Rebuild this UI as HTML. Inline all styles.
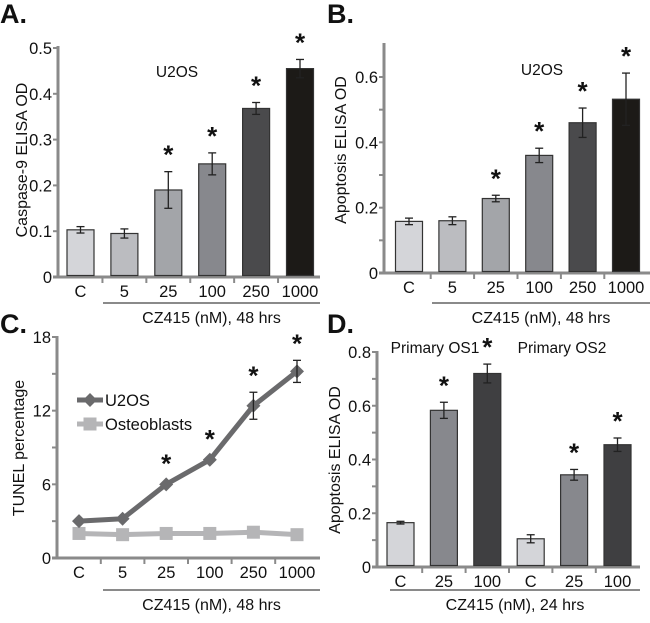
<!DOCTYPE html>
<html><head><meta charset="utf-8"><style>
html,body{margin:0;padding:0;background:#fff;}
svg{display:block;font-family:"Liberation Sans",Arial,sans-serif;}
</style></head><body>
<svg id="fig" width="650" height="623" viewBox="0 0 650 623">
<g font-weight="bold" font-size="27" fill="#111">
<text x="0" y="23">A.</text>
<text x="327" y="23">B.</text>
<text x="0" y="333">C.</text>
<text x="327" y="333">D.</text>
</g>
</svg>
<script>
const catsA=["C","5","25","100","250","1000"];
const valsA=[0.103,0.095,0.19,0.247,0.368,0.455];
const errA=[0.007,0.01,0.04,0.024,0.013,0.02];
const starA=[false,false,true,true,true,true];
const ticksA=[0,0.1,0.2,0.3,0.4,0.5];
const ticksAL=["0","0.1","0.2","0.3","0.4","0.5"];
const catsB=["C","5","25","100","250","1000"];
const valsB=[0.158,0.16,0.228,0.36,0.46,0.532];
const errB=[0.01,0.012,0.01,0.022,0.045,0.08];
const starB=[false,false,true,true,true,true];
const ticksB=[0,0.2,0.4,0.6];
const ticksBL=["0","0.2","0.4","0.6"];
const catsC=["C","5","25","100","250","1000"];
const u2os=[3.0,3.2,6.0,8.0,12.4,15.2];
const u2osErr=[0.2,0.2,0.3,0.3,1.1,0.9];
const osteo=[2.0,1.9,2.0,2.0,2.1,1.9];
const starC=[false,false,true,true,true,true];
const ticksC=[0,6,12,18];
const ticksCL=["0","6","12","18"];
const catsD=["C","25","100","C","25","100"];
const valsD=[0.165,0.583,0.72,0.105,0.343,0.455];
const errD=[0.005,0.03,0.035,0.015,0.02,0.025];
const starD=[false,true,true,false,true,true];
const ticksD=[0,0.2,0.4,0.6,0.8];
const ticksDL=["0","0.2","0.4","0.6","0.8"];
const colorsAB=["#d4d5d9","#bbbcc0","#a3a5a9","#87888d","#4a4a4c","#1c1a17"];
const colorsD=["#d4d5d9","#87888d","#3f3f41","#d4d5d9","#87888d","#3f3f41"];

const svg=document.getElementById('fig');
const NS="http://www.w3.org/2000/svg";
function mk(tag,attrs,parent){const e=document.createElementNS(NS,tag);for(const k in attrs)e.setAttribute(k,attrs[k]);(parent||svg).appendChild(e);return e;}
function txt(x,y,s,size,anchor,parent,extra){const t=mk('text',Object.assign({x:x,y:y,'font-size':size,'text-anchor':anchor||'middle',fill:'#111'},extra||{}),parent);t.textContent=s;return t;}

function axes(g,cfg){
  const ys=v=>cfg.y0-(v/cfg.ymax)*(cfg.y0-cfg.yTop);
  const xs=i=>cfg.cx0+i*cfg.step;
  const ya=mk('line',{x1:cfg.ax,y1:cfg.axTop,x2:cfg.ax,y2:cfg.y0+1,stroke:'#8a8a8a','stroke-width':3},g);
  
  const xa=mk('line',{x1:cfg.ax-5,y1:cfg.y0,x2:cfg.x1,y2:cfg.y0,stroke:'#8a8a8a','stroke-width':3},g);
  
  cfg.minor.forEach(v=>{mk('line',{x1:cfg.ax-5,y1:ys(v),x2:cfg.ax,y2:ys(v),stroke:'#8a8a8a','stroke-width':2},g);});
  cfg.ticks.forEach((v,i)=>{
    mk('line',{x1:cfg.ax-5,y1:ys(v),x2:cfg.ax,y2:ys(v),stroke:'#8a8a8a','stroke-width':2},g);
    const t=txt(cfg.ax-6,ys(v)+6,cfg.tickL[i],16.5,'end',g);
    
  });
  for(let i=1;i<cfg.cats.length;i++){const x=xs(i)-cfg.step/2;mk('line',{x1:x,y1:cfg.y0,x2:x,y2:cfg.y0+6,stroke:'#8a8a8a','stroke-width':2},g);}
  cfg.cats.forEach((c,i)=>{
    const t=txt(xs(i),cfg.y0+20,c,16.5,'middle',g);
    
  });
  const ul=mk('line',{x1:cfg.ulX0,y1:cfg.ulY,x2:cfg.x1,y2:cfg.ulY,stroke:'#8a8a8a','stroke-width':2},g);
  
  const tt=txt((cfg.ulX0+cfg.x1)/2,cfg.titleY,cfg.title,16,'middle',g);
  
  const yt=txt(0,0,cfg.ytitle,16,'middle',g,{transform:`translate(${cfg.ytx},${cfg.ytCy}) rotate(-90)`});
  
  return {ys,xs};
}
function errbar(g,x,ylo,yhi){
  mk('line',{x1:x,y1:ylo,x2:x,y2:yhi,stroke:'#222','stroke-width':1.3},g);
  mk('line',{x1:x-4,y1:ylo,x2:x+4,y2:ylo,stroke:'#222','stroke-width':1.3},g);
  mk('line',{x1:x-4,y1:yhi,x2:x+4,y2:yhi,stroke:'#222','stroke-width':1.3},g);
}
function star(g,x,y){const s=txt(x,y+14,'*',26,'middle',g,{'font-weight':'bold'});}
function bars(name,cfg,vals,errs,stars,colors,bw){
  const g=mk('g',{});
  const {ys,xs}=axes(g,cfg);
  vals.forEach((v,i)=>{
    const x=xs(i);
    const r=mk('rect',{x:x-bw/2,y:ys(v),width:bw,height:cfg.y0-1.5-ys(v),fill:colors[i],stroke:'#333','stroke-width':1.2},g);
    
    errbar(g,x,ys(v-errs[i]),ys(v+errs[i]));
    if(stars[i])star(g,x,ys(v+errs[i])-22);
  });
  return g;
}

// Panel A
const gA=bars('panel-a-chart',{ax:58,axTop:46,x1:320,y0:277,yTop:48,ymax:0.5,ticks:ticksA,tickL:ticksAL,minor:[],cats:catsA,cx0:80.5,step:43.9,
  title:'CZ415 (nM), 48 hrs',ytitle:'Caspase-9 ELISA OD',ytx:27,ytCy:160,ulX0:103,ulY:303,titleY:323},valsA,errA,starA,colorsAB,27);
let t=txt(177,77,'U2OS',15.5,'middle',gA);

// Panel B
const gB=bars('panel-b-chart',{ax:384,axTop:43,x1:650,y0:273,yTop:77,ymax:0.6,ticks:ticksB,tickL:ticksBL,minor:[0.1,0.3,0.5],cats:catsB,cx0:409,step:43.4,
  title:'CZ415 (nM), 48 hrs',ytitle:'Apoptosis ELISA OD',ytx:346,ytCy:150,ulX0:432,ulY:303,titleY:323},valsB,errB,starB,colorsAB,27);
t=txt(542,75,'U2OS',15.5,'middle',gB);

// Panel C (line chart)
const gC=mk('g',{});
const ac=axes(gC,{ax:57,axTop:336,x1:320,y0:558,yTop:337,ymax:18,ticks:ticksC,tickL:ticksCL,minor:[3,9,15],cats:catsC,cx0:79,step:43.6,
  title:'CZ415 (nM), 48 hrs',ytitle:'TUNEL percentage',ytx:24,ytCy:448,ulX0:103,ulY:590,titleY:610});
function series(vals,color,name,marker){
  const pts=vals.map((v,i)=>ac.xs(i)+','+ac.ys(v)).join(' ');
  const pl=mk('polyline',{points:pts,fill:'none',stroke:color,'stroke-width':5,'stroke-linejoin':'round'},gC);
  
  vals.forEach((v,i)=>{
    const x=ac.xs(i),y=ac.ys(v);let m;
    if(marker==='d')m=mk('polygon',{points:`${x},${y-7} ${x+7},${y} ${x},${y+7} ${x-7},${y}`,fill:color},gC);
    else m=mk('rect',{x:x-6.5,y:y-6.5,width:13,height:13,fill:color},gC);
    
  });
}
series(osteo,'#b5b5b7','osteoblasts','s');
series(u2os,'#6a6a6c','u2os','d');
u2os.forEach((v,i)=>{const x=ac.xs(i);if(u2osErr[i]>0.5)errbar(gC,x,ac.ys(v-u2osErr[i]),ac.ys(v+u2osErr[i]));if(starC[i])star(gC,x,ac.ys(v+u2osErr[i])-22);});
const lg=mk('g',{},gC);
mk('line',{x1:77,y1:400,x2:103,y2:400,stroke:'#6a6a6c','stroke-width':5},lg);
mk('polygon',{points:'90,393 97,400 90,407 83,400',fill:'#6a6a6c'},lg);
t=txt(105,406,'U2OS',16.5,'start',lg);
mk('line',{x1:77,y1:424,x2:103,y2:424,stroke:'#b5b5b7','stroke-width':5},lg);
mk('rect',{x:83.5,y:417.5,width:13,height:13,fill:'#b5b5b7'},lg);
t=txt(105,430,'Osteoblasts',16.5,'start',lg);

// Panel D
const gD=bars('panel-d-chart',{ax:377,axTop:351,x1:640,y0:567,yTop:352,ymax:0.8,ticks:ticksD,tickL:ticksDL,minor:[0.1,0.3,0.5,0.7],cats:catsD,cx0:400.5,step:43.4,
  title:'CZ415 (nM), 24 hrs',ytitle:'Apoptosis ELISA OD',ytx:340,ytCy:460,ulX0:390,ulY:590,titleY:610},valsD,errD,starD,colorsD,27);
t=txt(435,353,'Primary OS1',15.5,'middle',gD);
t=txt(562,353,'Primary OS2',15.5,'middle',gD);
</script>
</body></html>
